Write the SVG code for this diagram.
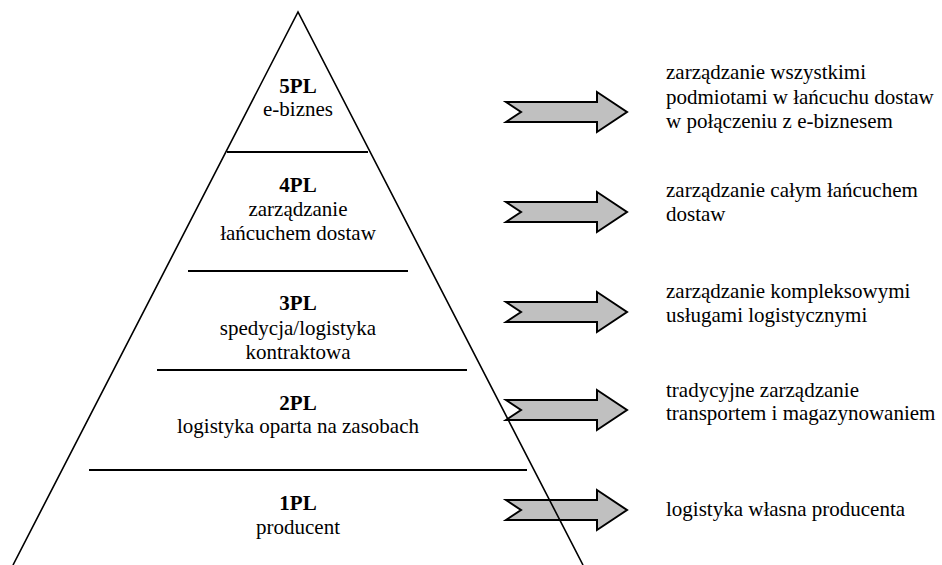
<svg xmlns="http://www.w3.org/2000/svg" width="942" height="565" viewBox="0 0 942 565">
<style>
text{font-family:"Liberation Serif","Times New Roman",serif;font-size:21px;fill:#000}
.c{text-anchor:middle}
.b{font-weight:bold}
.sep{stroke:#000;stroke-width:2;fill:none}
.edge{stroke:#000;stroke-width:1.6;fill:none}
.arr{fill:#c0c0c0;stroke:#000;stroke-width:2;stroke-linejoin:miter}
</style>
<defs>
<path id="barrow" d="M506,-10 L597,-10 L597,-20 L627,0 L597,20 L597,10 L506,10 L521,0 Z"/>
</defs>
<rect width="942" height="565" fill="#fff"/>
<g id="connectors">
<use href="#barrow" class="arr" transform="translate(0,112)"/>
<use href="#barrow" class="arr" transform="translate(0,212)"/>
<use href="#barrow" class="arr" transform="translate(0,312)"/>
<use href="#barrow" class="arr" transform="translate(0,410)"/>
<use href="#barrow" class="arr" transform="translate(0,510)"/>
</g>
<g id="pyramid">
<path class="edge" d="M13,565 L298,12 L583,565"/>
<line class="sep" x1="227" y1="152" x2="368" y2="152"/>
<line class="sep" x1="188" y1="271" x2="408" y2="271"/>
<line class="sep" x1="157" y1="370" x2="467" y2="370"/>
<line class="sep" x1="89" y1="470" x2="527" y2="470"/>
</g>
<g id="level5">
<text class="c b" x="298" y="93">5PL</text>
<text class="c" x="298" y="116">e-biznes</text>
</g>
<g id="level4">
<text class="c b" x="298" y="192">4PL</text>
<text class="c" x="298" y="216">zarządzanie</text>
<text class="c" x="298" y="240">łańcuchem dostaw</text>
</g>
<g id="level3">
<text class="c b" x="298" y="310">3PL</text>
<text class="c" x="298" y="335">spedycja/logistyka</text>
<text class="c" x="298" y="359">kontraktowa</text>
</g>
<g id="level2">
<text class="c b" x="298" y="410">2PL</text>
<text class="c" x="298" y="433">logistyka oparta na zasobach</text>
</g>
<g id="level1">
<text class="c b" x="298" y="510">1PL</text>
<text class="c" x="298" y="534">producent</text>
</g>
<g id="desc5">
<text x="666" y="79">zarządzanie wszystkimi</text>
<text x="666" y="103.5">podmiotami w łańcuchu dostaw</text>
<text x="666" y="128">w połączeniu z e-biznesem</text>
</g>
<g id="desc4">
<text x="666" y="196.5">zarządzanie całym łańcuchem</text>
<text x="666" y="221">dostaw</text>
</g>
<g id="desc3">
<text x="666" y="298">zarządzanie kompleksowymi</text>
<text x="666" y="322">usługami logistycznymi</text>
</g>
<g id="desc2">
<text x="666" y="396.5">tradycyjne zarządzanie</text>
<text x="666" y="420">transportem i magazynowaniem</text>
</g>
<g id="desc1">
<text x="666" y="516">logistyka własna producenta</text>
</g>
</svg>
